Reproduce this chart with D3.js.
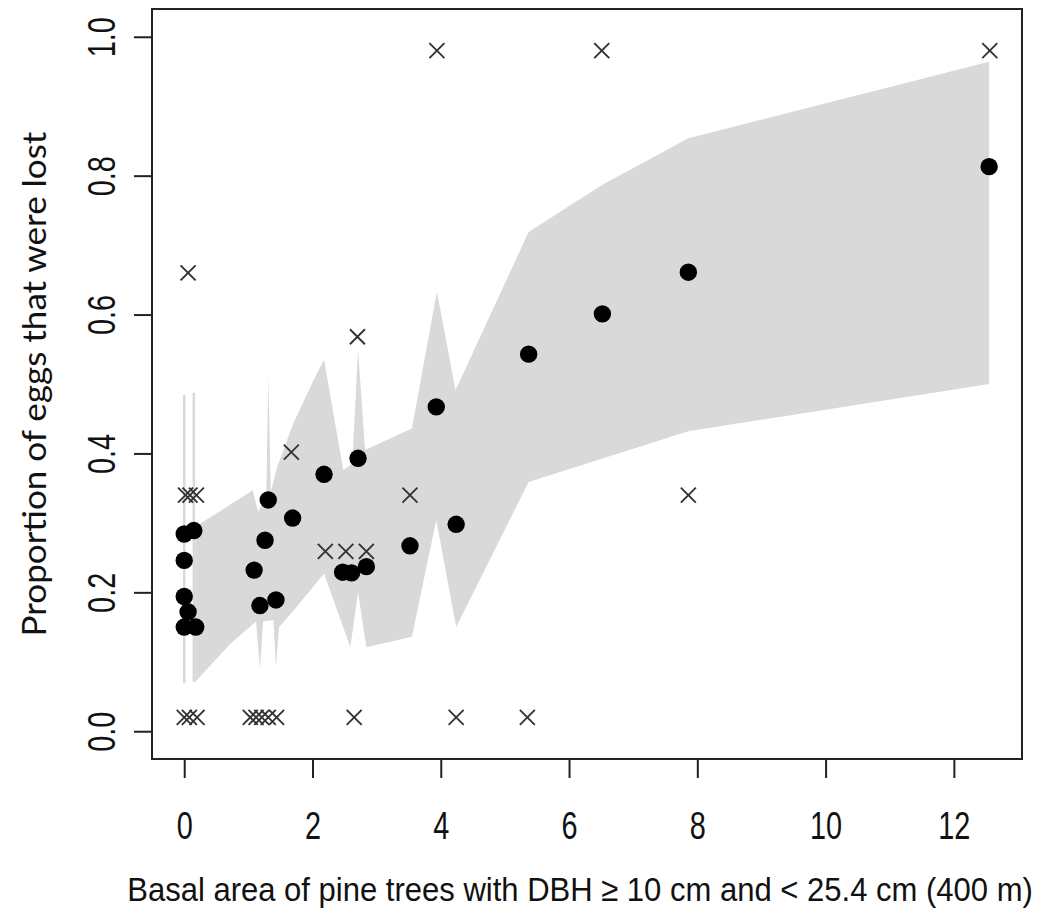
<!DOCTYPE html>
<html>
<head>
<meta charset="UTF-8">
<title>Proportion of eggs lost vs basal area</title>
<style>
    body { margin: 0; padding: 0; background: #fff; }
    svg { display: block; }
    .tick-label { font-family: "Liberation Sans", Arial, sans-serif; font-size: 38px; fill: #111; }
    .x-title { font-family: "Liberation Sans", Arial, sans-serif; font-size: 34px; fill: #111; }
    .y-title { font-family: Lato, "Open Sans", sans-serif; font-size: 33px; fill: #111; }
</style>
</head>
<body>
<svg id="chart" width="1049" height="915"></svg>

<script src="https://d3js.org/d3.v7.min.js"></script>
<script>
    // fitted values (black dots)
    var fitX = [0, 0, 0, 0, 0.06, 0.15, 0.18, 1.09, 1.18, 1.26, 1.31, 1.43, 1.69, 2.18, 2.47, 2.61, 2.71, 2.84, 3.52, 3.93, 4.24, 5.37, 6.52, 7.86, 12.55];
    var fitY = [0.150, 0.194, 0.246, 0.284, 0.172, 0.289, 0.150, 0.232, 0.181, 0.275, 0.333, 0.189, 0.307, 0.370, 0.229, 0.228, 0.393, 0.237, 0.267, 0.467, 0.298, 0.543, 0.601, 0.661, 0.813];

    // observed proportions (crosses)
    var obsX = [0.02, 0.09, 0.19, 0.06, 2.70, 1.67, 2.20, 2.52, 2.84, 3.52, 7.86, 3.94, 6.51, 12.56,
                0.00, 0.08, 0.20, 1.03, 1.12, 1.21, 1.31, 1.44, 2.65, 4.24, 5.35];
    var obsY = [0.34, 0.34, 0.34, 0.66, 0.568, 0.402, 0.259, 0.259, 0.259, 0.34, 0.34, 0.98, 0.98, 0.98,
                0.02, 0.02, 0.02, 0.02, 0.02, 0.02, 0.02, 0.02, 0.02, 0.02, 0.02];

    // confidence band: upper and lower edges
    var upX = [0.17, 1.07, 1.15, 1.28, 1.31, 1.35, 1.45, 1.70, 2.02, 2.18, 2.48, 2.62, 2.71, 2.82, 3.55, 3.94, 4.23, 5.37, 6.52, 7.86, 12.55];
    var upY = [0.294, 0.347, 0.316, 0.338, 0.510, 0.345, 0.381, 0.443, 0.506, 0.535, 0.376, 0.385, 0.549, 0.405, 0.436, 0.633, 0.491, 0.719, 0.787, 0.854, 0.964];
    var lowX = [0.17, 0.72, 1.12, 1.18, 1.23, 1.39, 1.43, 1.48, 1.69, 2.18, 2.59, 2.71, 2.84, 3.55, 3.93, 4.24, 5.37, 7.86, 12.55];
    var lowY = [0.071, 0.126, 0.158, 0.090, 0.158, 0.160, 0.093, 0.150, 0.172, 0.227, 0.121, 0.200, 0.121, 0.136, 0.304, 0.150, 0.359, 0.432, 0.500];

    // thin vertical slivers of the band at tied sites near zero
    var spikeX = [0, 0.15];
    var spikeLo = [0.069, 0.071];
    var spikeHi = [0.484, 0.487];

    var xTicks = [0, 2, 4, 6, 8, 10, 12];
    var yTicks = [0, 0.2, 0.4, 0.6, 0.8, 1.0];

    var boxLeft = 152, boxRight = 1022, boxTop = 9, boxBottom = 759;
    var squeeze = 0.76; // tick labels are tall and narrow

    var svg = d3.select("#chart");

    // R style: data range padded by 4%
    var xMin = d3.min(obsX.concat(fitX)), xMax = d3.max(obsX.concat(fitX));
    var xPad = (xMax - xMin) * 0.04;
    var xScale = d3.scaleLinear().domain([xMin - xPad, xMax + xPad]).range([boxLeft, boxRight]);
    var yScale = d3.scaleLinear().domain([-0.04, 1.04]).range([boxBottom, boxTop]);

    // band polygon
    var pts = [];
    for (var i = 0; i < upX.length; i++) pts.push([xScale(upX[i]), yScale(upY[i])]);
    for (var j = lowX.length - 1; j >= 0; j--) pts.push([xScale(lowX[j]), yScale(lowY[j])]);
    svg.append("path")
        .attr("d", d3.line()(pts) + "Z")
        .attr("fill", "#d9d9d9")
        .attr("stroke", "none");

    svg.selectAll(".spike")
        .data(spikeX)
        .enter().append("line")
        .attr("class", "spike")
        .attr("x1", function(d) { return xScale(d); })
        .attr("x2", function(d) { return xScale(d); })
        .attr("y1", function(d, i) { return yScale(spikeLo[i]); })
        .attr("y2", function(d, i) { return yScale(spikeHi[i]); })
        .attr("stroke", "#d9d9d9")
        .attr("stroke-width", 2.5);

    // crosses
    var cs = 7.5;
    var crosses = svg.selectAll(".cross")
        .data(obsX)
        .enter().append("g")
        .attr("class", "cross")
        .attr("transform", function(d, i) { return "translate(" + xScale(d) + "," + yScale(obsY[i]) + ")"; });
    crosses.append("line").attr("x1", -cs).attr("y1", -cs).attr("x2", cs).attr("y2", cs);
    crosses.append("line").attr("x1", -cs).attr("y1", cs).attr("x2", cs).attr("y2", -cs);
    crosses.selectAll("line").attr("stroke", "#333").attr("stroke-width", 1.9);

    // fitted dots
    svg.selectAll(".dot")
        .data(fitX)
        .enter().append("circle")
        .attr("class", "dot")
        .attr("cx", function(d) { return xScale(d); })
        .attr("cy", function(d, i) { return yScale(fitY[i]); })
        .attr("r", 8.7)
        .attr("fill", "#000");

    // box
    svg.append("rect")
        .attr("x", boxLeft).attr("y", boxTop)
        .attr("width", boxRight - boxLeft).attr("height", boxBottom - boxTop)
        .attr("fill", "none").attr("stroke", "#222").attr("stroke-width", 2);

    // x axis
    var xAxis = d3.axisBottom(xScale)
        .tickValues(xTicks)
        .tickSize(19)
        .tickPadding(0)
        .tickFormat(d3.format("d"));
    var gx = svg.append("g").attr("transform", "translate(0," + boxBottom + ")").call(xAxis);
    gx.select(".domain").attr("d", "M" + xScale(0) + ",0H" + xScale(12)).attr("stroke", "#222").attr("stroke-width", 2);
    gx.selectAll(".tick line").attr("stroke", "#222").attr("stroke-width", 2);
    gx.selectAll(".tick text")
        .attr("class", "tick-label").attr("fill", null)
        .attr("y", 80).attr("dy", null)
        .attr("transform", "scale(" + squeeze + ",1)");

    // y axis, labels parallel to the axis
    var yAxis = d3.axisLeft(yScale)
        .tickValues(yTicks)
        .tickSize(18)
        .tickFormat(d3.format(".1f"));
    var gy = svg.append("g").attr("transform", "translate(" + boxLeft + ",0)").call(yAxis);
    gy.select(".domain").attr("d", "M0," + yScale(0) + "V" + yScale(1)).attr("stroke", "#222").attr("stroke-width", 2);
    gy.selectAll(".tick line").attr("stroke", "#222").attr("stroke-width", 2);
    gy.selectAll(".tick text")
        .attr("class", "tick-label").attr("fill", null)
        .attr("x", null).attr("dy", null)
        .attr("text-anchor", "middle")
        .attr("transform", "translate(-37,0) rotate(-90) scale(" + squeeze + ",1)");

    // axis titles, narrowed to the width they take in the original
    var xTitle = svg.append("text")
        .attr("class", "x-title")
        .attr("text-anchor", "middle")
        .text("Basal area of pine trees with DBH \u2265 10 cm and < 25.4 cm (400 m)");
    var xTitleScale = 906 / xTitle.node().getComputedTextLength();
    xTitle.attr("transform", "translate(580,901) scale(" + xTitleScale + ",1)");

    var yTitle = svg.append("text")
        .attr("class", "y-title")
        .attr("text-anchor", "middle")
        .text("Proportion of eggs that were lost");
    var yTitleScale = 505 / yTitle.node().getComputedTextLength();
    yTitle.attr("transform", "translate(46,384) rotate(-90) scale(" + yTitleScale + ",1)");
</script>
</body>
</html>
